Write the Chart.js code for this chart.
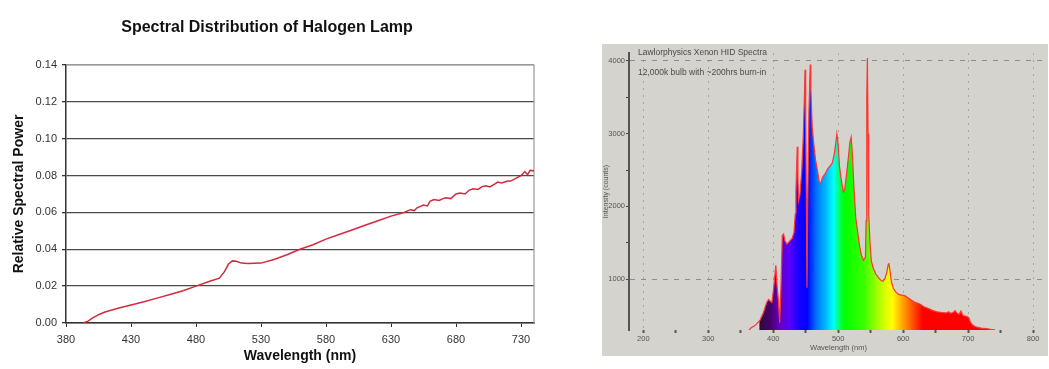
<!DOCTYPE html>
<html lang="en">
<head>
    <meta charset="UTF-8">
    <title>Halogen vs Xenon HID spectra</title>
    <script src="https://cdn.jsdelivr.net/npm/chart.js"></script>
    <style>
        body {
            margin: 0;
            background: #fff;
            font-family: Arial, "Liberation Sans", sans-serif;
        }
        #halogenBox {
            position: absolute;
            left: 0;
            top: 0;
            width: 550px;
            height: 369px;
        }
        #xenonBox {
            position: absolute;
            left: 602px;
            top: 44px;
            width: 446px;
            height: 312px;
            background: #d5d3cd;
        }
        .note {
            position: absolute;
            left: 36px;
            font-size: 8.5px;
            line-height: 1;
            color: #4a4a4a;
            white-space: nowrap;
        }
    </style>
</head>
<body>
    <div id="halogenBox"><canvas id="halogenChart"></canvas></div>
    <div id="xenonBox">
        <canvas id="xenonChart"></canvas>
        <div class="note" style="top:4px">Lawlorphysics Xenon HID Spectra</div>
        <div class="note" style="top:24px">12,000k bulb with ~200hrs burn-in</div>
    </div>

    <script>
        // halogen lamp: wavelength (nm) / relative spectral power
        const halogenWl = [393, 397, 400, 405, 410, 420, 430, 440, 450, 460, 470, 480, 490, 498, 502, 505, 508, 511, 515, 520, 530, 540, 550, 560, 570, 580, 590, 600, 610, 620, 630, 640, 645, 648, 650, 655, 658, 660, 663, 667, 670, 672, 676, 680, 683, 687, 690, 693, 697, 700, 703, 706, 710, 712, 715, 720, 722, 726, 730, 733, 735, 737, 740];
        const halogenPower = [0.000, 0.001, 0.0025, 0.0045, 0.006, 0.008, 0.0098, 0.0115, 0.0135, 0.0155, 0.0175, 0.020, 0.0225, 0.0243, 0.028, 0.032, 0.0337, 0.0335, 0.0325, 0.0323, 0.0325, 0.0345, 0.037, 0.040, 0.0425, 0.0455, 0.048, 0.0505, 0.053, 0.0555, 0.058, 0.060, 0.0615, 0.061, 0.0625, 0.064, 0.0635, 0.066, 0.067, 0.0665, 0.0675, 0.068, 0.0675, 0.070, 0.0705, 0.070, 0.072, 0.0728, 0.0725, 0.074, 0.0745, 0.0738, 0.0755, 0.0765, 0.076, 0.077, 0.077, 0.0785, 0.080, 0.0822, 0.0805, 0.0828, 0.0826];
        const halogenXTicks = [380, 430, 480, 530, 580, 630, 680, 730];
        const halogenYTicks = [0, 0.02, 0.04, 0.06, 0.08, 0.10, 0.12, 0.14];

        // xenon HID: wavelength (nm) / intensity (counts)
        const xenonWl = [363, 366, 372, 380, 385, 390, 393, 395, 398, 401, 404, 406, 408, 410, 412, 414, 416, 418, 421, 425, 429, 432, 434, 435, 437, 438, 439, 441, 444, 446, 448, 449, 450, 451, 452, 453, 455, 457, 458, 460, 462, 465, 468, 471, 473, 476, 480, 484, 488, 491, 494, 496, 498, 500, 502, 505, 508, 510, 513, 516, 518, 520, 522, 524, 527, 530, 533, 536, 539, 542, 543, 544, 545, 546, 547, 549, 551, 554, 558, 562, 566, 569, 572, 575, 577, 578, 580, 582, 585, 589, 593, 598, 603, 608, 613, 618, 622, 627, 632, 638, 645, 652, 660, 667, 670, 673, 677, 680, 683, 686, 689, 692, 696, 699, 701, 703, 706, 710, 715, 720, 728, 735, 741];
        const xenonCounts = [300, 330, 360, 440, 540, 680, 720, 700, 680, 900, 1190, 900, 700, 400, 900, 1600, 1620, 1530, 1480, 1520, 1560, 1640, 1900, 2200, 2820, 2400, 2080, 2150, 2500, 2900, 3500, 3880, 3200, 2100, 880, 2000, 3300, 3950, 3600, 3100, 2900, 2650, 2500, 2330, 2320, 2400, 2450, 2520, 2560, 2600, 2720, 2850, 3000, 2850, 2550, 2350, 2200, 2230, 2450, 2700, 2880, 2950, 2700, 2300, 1850, 1650, 1450, 1320, 1260, 1300, 1800, 3500, 4040, 3000, 1900, 1500, 1250, 1150, 1070, 1020, 980, 970, 1010, 1100, 1200, 1220, 1100, 960, 870, 820, 790, 780, 770, 740, 710, 680, 670, 650, 620, 600, 570, 550, 540, 535, 550, 530, 540, 565, 530, 515, 560, 500, 490, 480, 470, 420, 375, 350, 335, 325, 318, 310, 305];
        const xenonXTicks = [200, 250, 300, 350, 400, 450, 500, 550, 600, 650, 700, 750, 800];
        const xenonYTicks = [1000, 1500, 2000, 2500, 3000, 3500, 4000];

        // colours of the visible spectrum used under the xenon curve
        const spectrumStops = [
            [378, 'rgba(60,0,80,0)'], [379.5, '#2e0a3c'], [395, '#45006a'], [410, '#6500c0'],
            [425, '#5a00ff'], [440, '#1400ff'], [452, '#0000ff'], [466, '#0070ff'],
            [480, '#00b4ff'], [493, '#00ffff'], [503, '#00ff50'], [510, '#00ff00'],
            [540, '#3cff00'], [560, '#a0ff00'], [575, '#e4ff00'], [583, '#ffff00'],
            [600, '#ffa000'], [615, '#ff5000'], [630, '#ff0000'], [760, '#ff0000']
        ];

        function spectrumFill(context) {
            const chart = context.chart;
            const area = chart.chartArea;
            if (!area || !chart.scales.x) return 'rgba(0,0,0,0)';
            const x = chart.scales.x;
            const g = chart.ctx.createLinearGradient(area.left, 0, area.right, 0);
            spectrumStops.forEach(([nm, col]) => {
                const p = (x.getPixelForValue(nm) - area.left) / (area.right - area.left);
                g.addColorStop(Math.min(1, Math.max(0, p)), col);
            });
            return g;
        }

        const plotFrame = {
            id: 'plotFrame',
            beforeDatasetsDraw(chart) {
                const a = chart.chartArea, c = chart.ctx;
                c.save();
                c.strokeStyle = '#9a9a9a';
                c.lineWidth = 1.2;
                c.beginPath();
                c.moveTo(a.left, a.top);
                c.lineTo(a.right, a.top);
                c.lineTo(a.right, a.bottom);
                c.stroke();
                c.restore();
            }
        };

        const font = 'Arial, "Liberation Sans", sans-serif';

        new Chart(document.getElementById('halogenChart'), {
            type: 'line',
            data: {
                datasets: [{
                    data: halogenWl.map((w, i) => ({ x: w, y: halogenPower[i] })),
                    borderColor: '#d42a3c',
                    borderWidth: 1.5,
                    pointRadius: 0,
                    tension: 0,
                    fill: false
                }]
            },
            plugins: [plotFrame],
            options: {
                responsive: true,
                maintainAspectRatio: false,
                animation: false,
                layout: { padding: { left: 0, right: 16, top: 0, bottom: 0 } },
                plugins: {
                    legend: { display: false },
                    tooltip: { enabled: false },
                    title: {
                        display: true,
                        text: 'Spectral Distribution of Halogen Lamp',
                        color: '#111',
                        font: { family: font, size: 16, weight: 'bold' },
                        padding: { top: 18, bottom: 27.8 }
                    }
                },
                scales: {
                    x: {
                        type: 'linear',
                        min: 380,
                        max: 740,
                        afterBuildTicks: s => { s.ticks = halogenXTicks.map(v => ({ value: v })); },
                        afterFit: s => { s.height = 46; },
                        grid: { drawOnChartArea: false, drawTicks: true, tickLength: 4, tickColor: '#333' },
                        border: { color: '#333', width: 1.5 },
                        ticks: { color: '#333', padding: 6, maxRotation: 0, font: { family: font, size: 11 } },
                        title: {
                            display: true,
                            text: 'Wavelength (nm)',
                            color: '#111',
                            font: { family: font, size: 14, weight: 'bold' },
                            padding: { top: 0, bottom: 4 }
                        }
                    },
                    y: {
                        min: 0,
                        max: 0.14,
                        afterBuildTicks: s => { s.ticks = halogenYTicks.map(v => ({ value: v })); },
                        afterFit: s => { s.width = 66; },
                        grid: {
                            color: c => (c.tick && c.tick.value === 0.14) ? '#9a9a9a' : '#4a4a4a',
                            lineWidth: 1.3,
                            tickLength: 4,
                            tickColor: '#333'
                        },
                        border: { color: '#333', width: 1.5 },
                        ticks: {
                            color: '#333',
                            padding: 5,
                            font: { family: font, size: 11 },
                            callback: v => v.toFixed(2)
                        },
                        title: {
                            display: true,
                            text: 'Relative Spectral Power',
                            color: '#111',
                            font: { family: font, size: 14, weight: 'bold' },
                            padding: { top: 11, bottom: 0 }
                        }
                    }
                }
            }
        });

        new Chart(document.getElementById('xenonChart'), {
            type: 'line',
            data: {
                datasets: [{
                    data: xenonWl.map((w, i) => ({ x: w, y: xenonCounts[i] })),
                    borderColor: '#ff3434',
                    borderWidth: 1.2,
                    backgroundColor: spectrumFill,
                    pointRadius: 0,
                    tension: 0,
                    fill: 'start'
                }]
            },
            options: {
                responsive: true,
                maintainAspectRatio: false,
                animation: false,
                layout: { padding: { left: 0, right: 0, top: 9, bottom: 0 } },
                plugins: {
                    legend: { display: false },
                    tooltip: { enabled: false },
                    title: { display: false }
                },
                scales: {
                    x: {
                        type: 'linear',
                        min: 178,
                        max: 823,
                        afterBuildTicks: s => { s.ticks = xenonXTicks.map(v => ({ value: v })); },
                        afterFit: s => { s.height = 26; },
                        grid: {
                            color: c => (c.tick && c.tick.value % 100 === 0) ? '#a6a4a0' : 'rgba(0,0,0,0)',
                            lineWidth: 1,
                            tickLength: 3,
                            tickWidth: 2,
                            tickColor: '#555'
                        },
                        border: { display: false, dash: [2, 5] },
                        ticks: {
                            color: '#555',
                            padding: 1,
                            maxRotation: 0,
                            autoSkip: false,
                            font: { family: font, size: 7.5 },
                            callback: v => v % 100 === 0 ? String(v) : ''
                        },
                        title: {
                            display: true,
                            text: 'Wavelength (nm)',
                            color: '#555',
                            font: { family: font, size: 7.5 },
                            padding: { top: 0, bottom: 4 }
                        }
                    },
                    y: {
                        min: 300,
                        max: 4110,
                        afterBuildTicks: s => { s.ticks = xenonYTicks.map(v => ({ value: v })); },
                        afterFit: s => { s.width = 27; },
                        grid: {
                            color: c => (c.tick && (c.tick.value === 1000 || c.tick.value === 4000)) ? '#8e8c88' : 'rgba(0,0,0,0)',
                            lineWidth: 1,
                            tickLength: 3,
                            tickColor: '#444'
                        },
                        border: { color: '#555', width: 2, dash: [5, 6] },
                        ticks: {
                            color: '#555',
                            padding: 1,
                            autoSkip: false,
                            font: { family: font, size: 7.5 },
                            callback: v => v % 1000 === 0 ? String(v) : ''
                        },
                        title: {
                            display: true,
                            text: 'Intensity (counts)',
                            color: '#555',
                            font: { family: font, size: 7 },
                            padding: { top: 0, bottom: 0 }
                        }
                    }
                }
            }
        });
    </script>
</body>
</html>
